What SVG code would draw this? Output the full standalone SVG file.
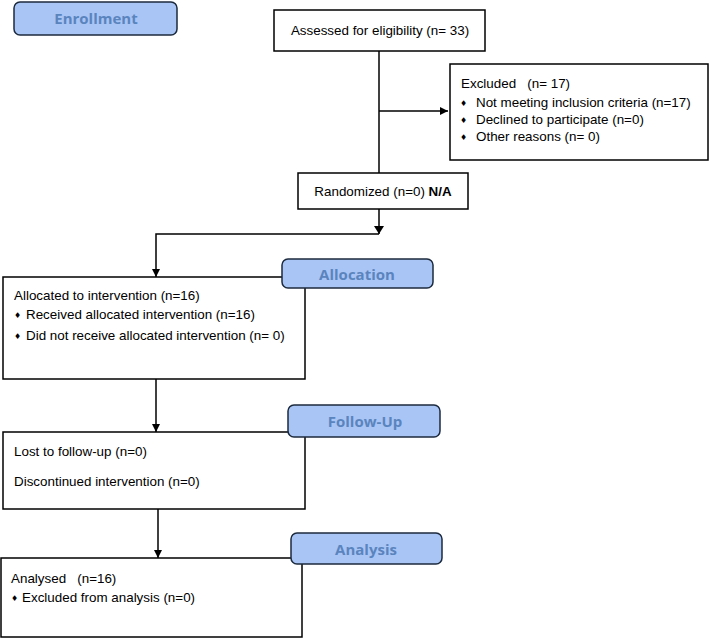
<svg xmlns="http://www.w3.org/2000/svg" width="710" height="638" viewBox="0 0 710 638">
<defs>
<marker id="ah" viewBox="0 0 10 10" refX="10" refY="5" markerWidth="8" markerHeight="8" markerUnits="userSpaceOnUse" orient="auto">
<path d="M0,0 L10,5 L0,10 z" fill="#000"/>
</marker>
<style>
.box{fill:#fff;stroke:#000;stroke-width:1.5}
.lab{fill:#a9c5f6;stroke:#1c2a3e;stroke-width:1.5}
.lt{font-family:"Open Sans","Noto Sans",sans-serif;font-weight:bold;font-size:15px;fill:#5a84bd;text-anchor:middle}
.t{font-family:"Liberation Sans",Arial,sans-serif;font-size:13.4px;fill:#000}
.b{font-family:"DejaVu Sans",sans-serif;font-size:8px;fill:#000}
.c{fill:none;stroke:#000;stroke-width:1.5}
</style>
</defs>
<rect width="710" height="638" fill="#fff"/>
<g id="connectors">
<path class="c" d="M379,51 V173"/>
<path class="c" d="M379,111 H448" marker-end="url(#ah)"/>
<path class="c" d="M379,209 V234"/>
<path class="c" d="M379,234 H156 V277" marker-end="url(#ah)"/>
<path d="M374,226 L384,226 L379,234 z" fill="#000"/>
<path class="c" d="M156,379 V432" marker-end="url(#ah)"/>
<path class="c" d="M158,509 V558" marker-end="url(#ah)"/>
</g>
<g id="enrollment">
<rect class="lab" x="14" y="2" width="163" height="33" rx="6"/>
<text class="lt" x="96" y="24">Enrollment</text>
</g>
<g id="assessed">
<rect class="box" x="274" y="10" width="211" height="41"/>
<text class="t" x="380" y="35" text-anchor="middle">Assessed for eligibility (n= 33)</text>
</g>
<g id="excluded">
<rect class="box" x="450" y="64" width="258" height="96"/>
<text class="t" x="461" y="88" xml:space="preserve">Excluded   (n= 17)</text>
<text class="b" x="460" y="106">♦</text><text class="t" x="476" y="107">Not meeting inclusion criteria (n=17)</text>
<text class="b" x="460" y="123">♦</text><text class="t" x="476" y="124">Declined to participate (n=0)</text>
<text class="b" x="460" y="140">♦</text><text class="t" x="476" y="141">Other reasons (n= 0)</text>
</g>
<g id="randomized">
<rect class="box" x="298" y="173" width="170" height="36"/>
<text class="t" x="383" y="196" text-anchor="middle">Randomized (n=0) <tspan font-weight="bold">N/A</tspan></text>
</g>
<g id="allocated">
<rect class="box" x="3" y="277" width="302" height="102"/>
<text class="t" x="14" y="300">Allocated to intervention (n=16)</text>
<text class="b" x="14" y="318">♦</text><text class="t" x="26" y="319">Received allocated intervention (n=16)</text>
<text class="b" x="14" y="339">♦</text><text class="t" x="26" y="340">Did not receive allocated intervention (n= 0)</text>
</g>
<g id="allocation">
<rect class="lab" x="282" y="259" width="151" height="29" rx="6"/>
<text class="lt" x="357" y="280">Allocation</text>
</g>
<g id="followup-box">
<rect class="box" x="3" y="432" width="302" height="77"/>
<text class="t" x="14" y="456">Lost to follow-up (n=0)</text>
<text class="t" x="14" y="486">Discontinued intervention (n=0)</text>
</g>
<g id="followup">
<rect class="lab" x="288" y="405" width="152" height="32" rx="6"/>
<text class="lt" x="365" y="427">Follow-Up</text>
</g>
<g id="analysed">
<rect class="box" x="1" y="558" width="301" height="79"/>
<text class="t" x="11" y="583" xml:space="preserve">Analysed   (n=16)</text>
<text class="b" x="11" y="601">♦</text><text class="t" x="22" y="602">Excluded from analysis (n=0)</text>
</g>
<g id="analysis">
<rect class="lab" x="291" y="533" width="151" height="31" rx="6"/>
<text class="lt" x="366" y="555">Analysis</text>
</g>
</svg>
